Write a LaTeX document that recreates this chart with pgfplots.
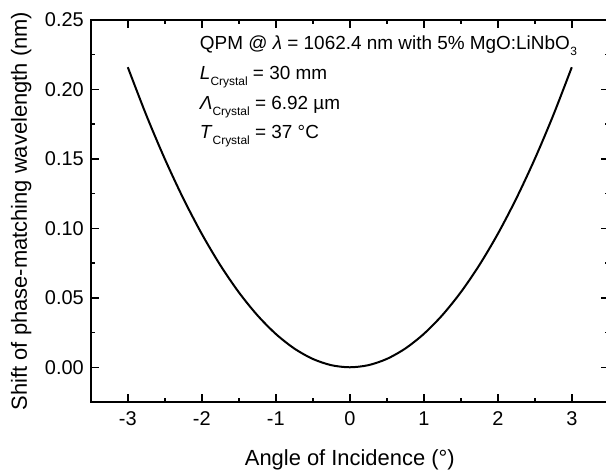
\documentclass[border=0pt]{standalone}
\usepackage{pgfplots}
\pgfplotsset{compat=1.18}
\usepackage{fontspec}
\setmainfont{Liberation Sans}
\newcommand{\sub}[1]{\raisebox{-0.6ex}{\fontsize{6}{6}\selectfont #1}}
\begin{document}
\begin{tikzpicture}
\begin{axis}[
  scale only axis,
  width=259bp, height=191bp,
  xmin=-3.5, xmax=3.5,
  ymin=-0.025, ymax=0.25,
  xtick={-3,-2,-1,0,1,2,3},
  minor xtick={-3.5,-2.5,-1.5,-0.5,0.5,1.5,2.5,3.5},
  ytick={0,0.05,0.10,0.15,0.20,0.25},
  minor ytick={0.025,0.075,0.125,0.175,0.225},
  tick align=inside,
  major tick length=4bp,
  minor tick length=2bp,
  every tick/.style={black, line width=0.7bp},
  axis line style={line width=0.75bp},
  yticklabel style={/pgf/number format/fixed, /pgf/number format/fixed zerofill, /pgf/number format/precision=2},
  /pgf/number format/assume math mode=true,
  tick label style={font=\fontsize{10}{12}\selectfont},
  xticklabel style={yshift=-1.5bp},
  label style={font=\fontsize{11}{13}\selectfont},
  xlabel={Angle of Incidence (°)},
  ylabel={Shift of phase-matching wavelength (nm)},
  xlabel style={yshift=-5bp},
]
\addplot[black, line width=1bp, smooth] coordinates {
(-3,0.216) (-2.75,0.1815) (-2.5,0.15) (-2.25,0.1215) (-2,0.096)
(-1.75,0.0735) (-1.5,0.054) (-1.25,0.0375) (-1,0.024) (-0.75,0.0135)
(-0.5,0.006) (-0.25,0.0015) (0,0) (0.25,0.0015) (0.5,0.006)
(0.75,0.0135) (1,0.024) (1.25,0.0375) (1.5,0.054) (1.75,0.0735)
(2,0.096) (2.25,0.1215) (2.5,0.15) (2.75,0.1815) (3,0.216)
};
\node[anchor=base west, font=\fontsize{9.5}{11}\selectfont, inner sep=0pt] at (axis cs:-2.03,0.229) {QPM @ \textit{λ} = 1062.4 nm with 5\% MgO:LiNbO\kern0.3bp\sub{3}};
\node[anchor=base west, font=\fontsize{9.5}{11}\selectfont, inner sep=0pt] at (axis cs:-2.03,0.2073) {\textit{L}\sub{Crystal} = 30 mm};
\node[anchor=base west, font=\fontsize{9.5}{11}\selectfont, inner sep=0pt] at (axis cs:-2.03,0.1858) {\textit{Λ}\sub{Crystal} = 6.92 µm};
\node[anchor=base west, font=\fontsize{9.5}{11}\selectfont, inner sep=0pt] at (axis cs:-2.03,0.1645) {\textit{T}\sub{Crystal} = 37 °C};
\end{axis}
\pgfresetboundingbox
\path ([xshift=-45.4bp,yshift=-36.5bp]current axis.south west) rectangle ([xshift=-1.4bp,yshift=10bp]current axis.north east);
\end{tikzpicture}
\end{document}
